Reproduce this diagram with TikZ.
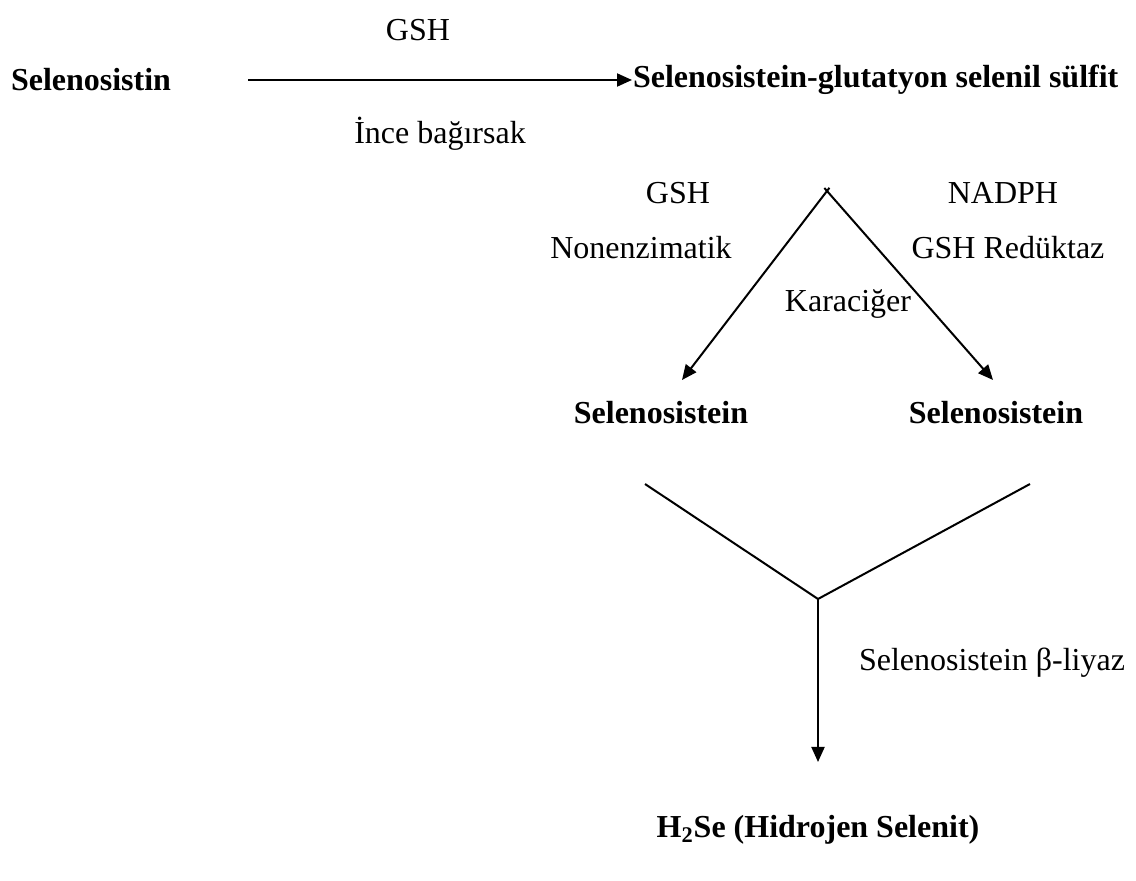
\documentclass[tikz,border=0pt]{standalone}
\usepackage{fontspec}
\setmainfont{Liberation Serif}
\usetikzlibrary{arrows.meta}

\begin{document}
\begin{tikzpicture}[x=0.5pt,y=-0.5pt,line width=1pt,
  txt/.style={inner sep=0pt,font=\fontsize{16}{19}\selectfont},
  bold/.style={txt,font=\fontsize{16}{19}\selectfont\bfseries},
  tip/.style={-{Triangle[length=7.5pt,width=6.5pt]}}]
\useasboundingbox (0,0) rectangle (1136,881);
% top row
\node[txt] (gshA) at (418,30) {GSH};
\node[bold,anchor=west] (selenosistin) at (10,80) {Selenosistin};
\node[bold,anchor=west] (sulfit) at (632,80) {Selenosistein-glutatyon selenil sülfit};
\node[txt] (bagirsak) at (440,134) {İnce bağırsak};
\coordinate (lineA) at (248,80);
\draw[tip] (lineA) -- (sulfit.west);
% split in the liver
\coordinate (apex) at (827,191);
\node[txt] (gshB) at (678,193) {GSH};
\node[txt] (nadph) at (1003,193) {NADPH};
\node[txt] (nonenz) at (641,248) {Nonenzimatik};
\node[txt] (reduktaz) at (1008,248) {GSH Redüktaz};
\node[txt] (karaciger) at (848,304) {Karaciğer};
\node[bold] (selL) at (661,413) {Selenosistein};
\node[bold] (selR) at (996,413) {Selenosistein};
\coordinate (tipL) at (682,380);
\coordinate (tipR) at (993,380);
\draw[tip,shorten <=-2pt] (apex) -- (tipL);
\draw[tip,shorten <=-2pt] (apex) -- (tipR);
% lyase
\coordinate (yL) at (645,484);
\coordinate (yR) at (1030,484);
\coordinate (join) at (818,599);
\coordinate (tipD) at (818,762);
\draw (yL) -- (join) -- (yR);
\draw[tip] (join) -- (tipD);
\node[txt,anchor=west] (liyaz) at (858,663) {Selenosistein β-liyaz};
\node[bold] (h2se) at (818,830) {H\textsubscript{2}Se (Hidrojen Selenit)};
\end{tikzpicture}
\end{document}
